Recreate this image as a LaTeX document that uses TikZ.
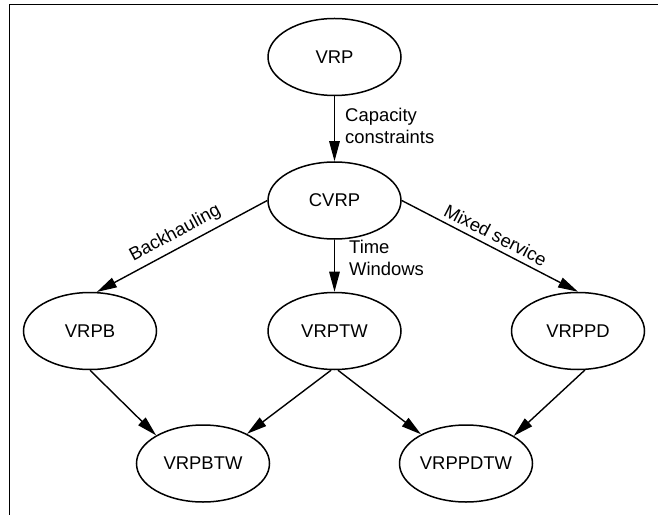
\documentclass[tikz,border=0pt]{standalone}
\usepackage{fontspec}
\setmainfont{Liberation Sans}
\usetikzlibrary{shapes.geometric,arrows.meta}
\tikzset{
  prob/.style={draw, line width=1.5bp, ellipse, minimum width=133bp, minimum height=77bp, inner sep=0pt, font=\fontsize{18.5}{22}\selectfont},
  edge/.style={line width=1.4bp, -{Triangle[length=20bp,width=10.5bp]}},
  elabel/.style={font=\fontsize{18.5}{22}\selectfont, inner sep=2bp},
  frame/.style={line width=1bp}
}
\begin{document}
\begin{tikzpicture}[x=1bp,y=-1bp]
\useasboundingbox (0,0) rectangle (658,515);
\draw[frame] (9.3,515) -- (9.3,4.3) -- (658,4.3);
\node[prob] (vrp) at (334.5,57) {VRP};
\node[prob] (cvrp) at (334.5,200.5) {CVRP};
\node[prob] (vrpb) at (90,331) {VRPB};
\node[prob] (vrptw) at (334.5,331) {VRPTW};
\node[prob] (vrppd) at (578,331) {VRPPD};
\node[prob] (vrpbtw) at (203,463.5) {VRPBTW};
\node[prob] (vrppdtw) at (466,463.5) {VRPPDTW};
\draw[edge] (vrp.south) -- (cvrp.north)
  node[elabel, pos=0.45, right=8bp, align=left] {Capacity\\constraints};
\draw[edge] (cvrp.south) -- (vrptw.north)
  node[elabel, pos=0.35, right=12bp, align=left] {Time\\Windows};
\draw[edge] (cvrp.west) -- (vrpb.80)
  node[elabel, midway, sloped, above=3bp] {Backhauling};
\draw[edge] (cvrp.east) -- (vrppd.north)
  node[elabel, midway, sloped, above=3bp] {Mixed service};
\draw[edge] (vrpb.south) -- (vrpbtw.149);
\draw[edge] (vrptw.265) -- (vrpbtw.34);
\draw[edge] (vrptw.275) -- (vrppdtw.147);
\draw[edge] (vrppd.280) -- (vrppdtw.30);
\end{tikzpicture}
\end{document}
